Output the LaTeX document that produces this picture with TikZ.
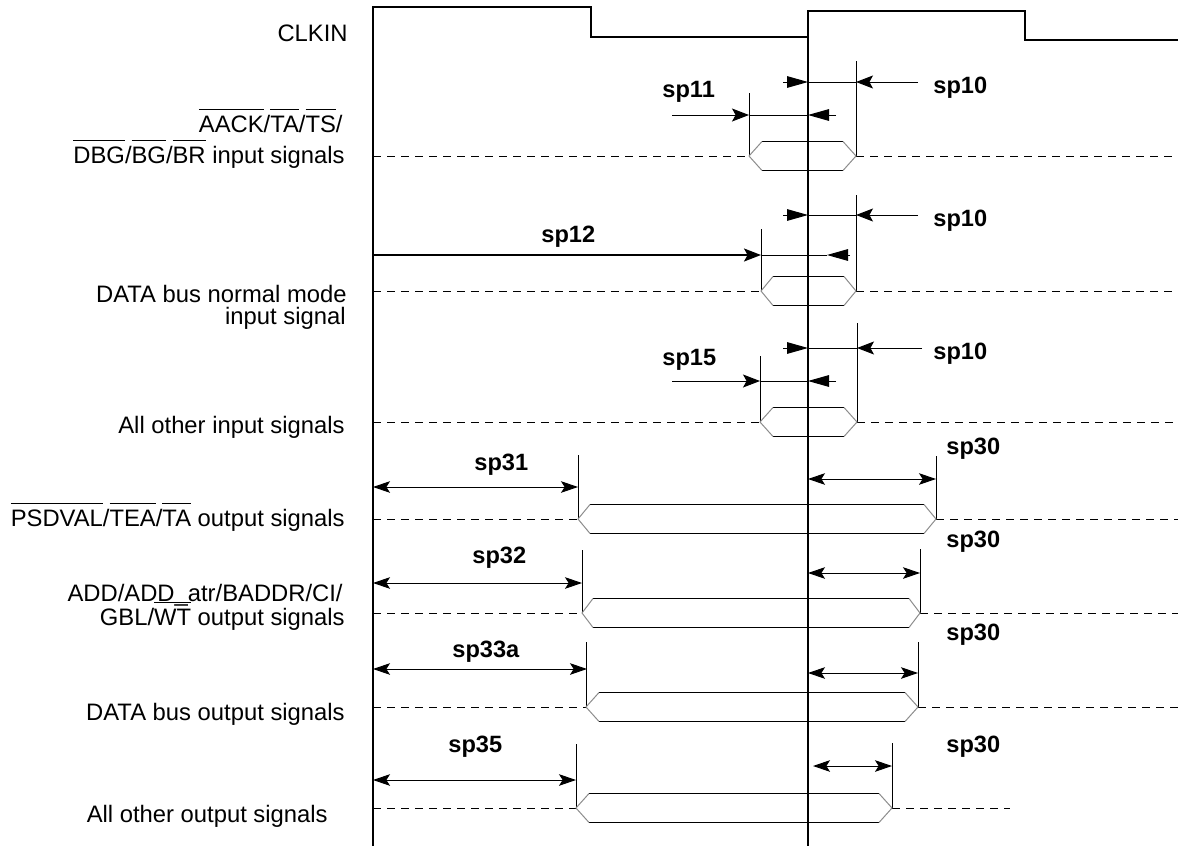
\documentclass[tikz,border=0pt]{standalone}
\usepackage{fontspec}
\setmainfont{Liberation Sans}
\usepackage{tikz}
\usetikzlibrary{arrows.meta}
\newcommand{\ovl}[1]{\setbox0\hbox{#1}\rlap{\rule[\dimexpr\ht0+2.6pt\relax]{\wd0}{0.6pt}}\box0\relax}
\tikzset{
  sigline/.style={line width=0.5pt},
  clkline/.style={line width=0.7pt},
  tk/.style={line width=0.5pt},
  dashsig/.style={line width=0.5pt,dash pattern=on 4pt off 3pt},
  busline/.style={line width=0.5pt},
  busedge/.style={line width=0.5pt,black!45},
  tri/.style={-{Triangle[length=10.5pt,width=5.8pt]},line width=0.5pt},
  stl/.style={-{Stealth[length=8.5pt,width=6.5pt,inset=1.8pt]},line width=0.5pt},
  dbl/.style={{Stealth[length=8.5pt,width=5.8pt,inset=1.8pt]}-{Stealth[length=8.5pt,width=5.8pt,inset=1.8pt]},
    line width=0.5pt},
  siglbl/.style={font=\fontsize{11.9}{13}\selectfont,anchor=base east,inner sep=0pt},
  splbl/.style={font=\fontsize{11.8}{13}\selectfont\bfseries,anchor=west,inner sep=0pt},
}

\begin{document}
\begin{tikzpicture}[x=0.5pt,y=-0.5pt]
  \useasboundingbox (0,0) rectangle (1178,846);
  % clock and reference edges
  \draw[clkline] (373,846) -- (373,7) -- (591,7) -- (591,37) -- (808,37)
    -- (808,11) -- (1025,11) -- (1025,40) -- (1178,40);
  \draw[clkline] (808,11) -- (808,846);
  % signal names
  \node[siglbl] (nclk) at (348,41) {CLKIN};
  \node[siglbl] (nin1a) at (343,132) {\ovl{AACK}/\ovl{TA}/\ovl{TS}/};
  \node[siglbl] (nin1b) at (345,163) {\ovl{DBG}/\ovl{BG}/\ovl{BR} input signals};
  \node[siglbl] (nin2a) at (347,302) {DATA bus normal mode};
  \node[siglbl] (nin2b) at (346,324) {input signal};
  \node[siglbl] (nin3) at (345,433) {All other input signals};
  \node[siglbl] (nout1) at (345,526) {\ovl{PSDVAL}/\ovl{TEA}/\ovl{TA} output signals};
  \node[siglbl] (nout2a) at (343,601) {ADD/ADD\_atr/BADDR/CI/};
  \node[siglbl] (nout2b) at (345,625) {GBL/\ovl{WT} output signals};
  \node[siglbl] (nout3) at (345,720) {DATA bus output signals};
  \node[siglbl] (nout4) at (328,822) {All other output signals};
  % buses, dashed idle levels and edge markers
  \foreach \y/\xl/\xr/\s/\tl/\tr/\xe [count=\r] in {156/749/856/13/93/61/1178,
      291/761/856/12/229/195/1178, 422/760/857/13/356/323/1178,
      519/578/936/12/455/456/1178, 613/582/920/11/550/549/1178,
      707/586/918/13/642/642/1178, 808/576/892/13/744/743/1010} {
    \coordinate (bl\r) at (\xl,\y);
    \coordinate (br\r) at (\xr,\y);
    \draw[dashsig] (373,\y) -- (bl\r);
    \draw[dashsig] (br\r) -- (\xe,\y);
    \draw[tk] (\xl,\tl) -- (bl\r);
    \draw[tk] (\xr,\tr) -- (br\r);
    \draw[busline] (\xl+\s,\y-14.5) -- (\xr-\s,\y-14.5)
      (\xl+\s,\y+14.5) -- (\xr-\s,\y+14.5);
    \draw[busedge] (\xl+\s,\y-14.5) -- (bl\r) -- (\xl+\s,\y+14.5)
      (\xr-\s,\y-14.5) -- (br\r) -- (\xr-\s,\y+14.5);
  }
  % hold times
  \foreach \y/\xr/\xe [count=\r] in {82/856/918, 215/856/918, 348/857/922} {
    \coordinate (hc\r) at (808,\y);
    \coordinate (hr\r) at (\xr,\y);
    \draw[tri] (783,\y) -- (hc\r);
    \draw[sigline] (hc\r) -- (hr\r);
    \draw[stl] (\xe,\y) -- (hr\r);
    \node[splbl] (hold\r) at (933,\y+6) {sp10};
  }
  % setup times
  \coordinate (su1) at (749,115);
  \draw[stl] (672,115) -- (su1);
  \draw[sigline] (su1) -- (808,115);
  \draw[tri] (836,115) -- (808,115);
  \node[splbl] (nsp11) at (662,92) {sp11};
  \coordinate (su2) at (761,255);
  \draw[stl,line width=1pt] (373,255) -- (su2);
  \draw[sigline] (su2) -- (827,255);
  \draw[tri] (850,255) -- (827,255);
  \node[splbl] (nsp12) at (541,237) {sp12};
  \coordinate (su3) at (760,381);
  \draw[stl] (672,381) -- (su3);
  \draw[sigline] (su3) -- (808,381);
  \draw[tri] (836,381) -- (808,381);
  \node[splbl] (nsp15) at (662,360) {sp15};
  % output delays
  \foreach \ya/\xa/\la/\lx/\ly/\yb/\xb/\xc/\my [count=\r] in {
      487/578/sp31/474/465/479/808/936/449, 583/582/sp32/472/558/573/808/920/542,
      669/587/sp33a/452/652/673/808/918/635, 780/576/sp35/448/747/766/813/892/747} {
    \draw[dbl] (373,\ya) -- (\xa,\ya);
    \draw[dbl] (\xb,\yb) -- (\xc,\yb);
    \node[splbl] (dly\r) at (\lx,\ly) {\la};
    \node[splbl] (val\r) at (946,\my) {sp30};
  }
\end{tikzpicture}
\end{document}
